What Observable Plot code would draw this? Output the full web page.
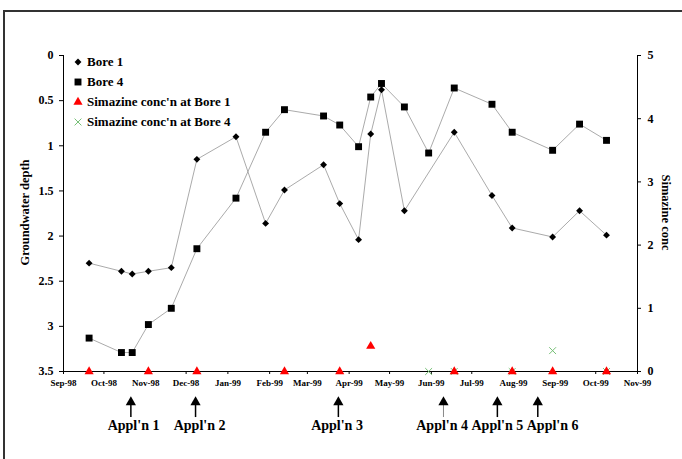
<!DOCTYPE html>
<html>
<head>
<meta charset="utf-8">
<script src="https://cdn.jsdelivr.net/npm/d3@7"></script>
<script src="https://cdn.jsdelivr.net/npm/@observablehq/plot@0.6"></script>
<style>
  html, body { margin: 0; padding: 0; background: #fff; }
  #wrap { position: relative; width: 682px; height: 459px; overflow: hidden; font-family: "Liberation Serif", "Times New Roman", serif; font-weight: bold; }
  #chart { position: absolute; left: 0; top: 0; }
  #border { position: absolute; left: 3px; top: 10px; width: 720px; height: 500px; border-left: 2.5px solid #333; border-top: 2.5px solid #333; pointer-events: none; }
  .ytitle { position: absolute; font-size: 12.5px; white-space: nowrap; transform-origin: center center; }
  #legend { position: absolute; left: 70px; top: 52px; font-size: 13px; }
  .row { height: 20px; display: flex; align-items: center; }
  .row svg { width: 16px; height: 12px; margin-right: 1px; }
</style>
</head>
<body>
<div id="wrap">
  <div id="chart"></div>
  <div id="border"></div>
  <div class="ytitle" id="ltitle">Groundwater depth</div>
  <div class="ytitle" id="rtitle">Simazine conc</div>
  <div id="legend"></div>
</div>
<script>
// ---- data ----
const bore1Dates = ["1998-09-20","1998-10-14","1998-10-22","1998-11-03","1998-11-20","1998-12-09","1999-01-07","1999-01-29","1999-02-12","1999-03-13","1999-03-25","1999-04-08","1999-04-17","1999-04-25","1999-05-12","1999-06-18","1999-07-16","1999-07-31","1999-08-30","1999-09-19","1999-10-09"];
const bore1Depth = [2.30,2.39,2.42,2.39,2.35,1.15,0.90,1.86,1.49,1.21,1.64,2.04,0.87,0.38,1.72,0.85,1.55,1.91,2.01,1.72,1.99];

const bore4Dates = ["1998-09-20","1998-10-14","1998-10-22","1998-11-03","1998-11-20","1998-12-09","1999-01-07","1999-01-29","1999-02-12","1999-03-13","1999-03-25","1999-04-08","1999-04-17","1999-04-25","1999-05-12","1999-05-30","1999-06-18","1999-07-16","1999-07-31","1999-08-30","1999-09-19","1999-10-09"];
const bore4Depth = [3.13,3.29,3.29,2.98,2.80,2.14,1.58,0.85,0.60,0.67,0.77,1.01,0.46,0.31,0.57,1.08,0.36,0.54,0.85,1.05,0.76,0.94];

const sim1Dates = ["1998-09-20","1998-11-03","1998-12-09","1999-02-12","1999-03-25","1999-04-17","1999-06-18","1999-07-31","1999-08-30","1999-10-09"];
const sim1Conc  = [0,0,0,0,0,0.40,0,0,0,0];

const sim4Dates = ["1999-05-30","1999-06-18","1999-07-31","1999-08-30","1999-10-09"];
const sim4Conc  = [0,0,0,0.33,0];

const applLabels = ["Appl'n 1","Appl'n 2","Appl'n 3","Appl'n 4","Appl'n 5","Appl'n 6"];
const applDates  = ["1998-10-21","1998-12-08","1999-03-24","1999-06-10","1999-07-20","1999-08-19"];
const applTextDates = ["1998-10-23","1998-12-11","1999-03-23","1999-06-09","1999-07-20","1999-08-30"];

const depthTicks = [0,0.5,1,1.5,2,2.5,3,3.5];
const concTicks = [0,1,2,3,4,5];
const xStart = "1998-09-01", xEnd = "1999-11-01";

// ---- build tables ----
const depthMax = 3.5, concMax = 5;
const concToDepth = c => depthMax - c * depthMax / concMax;
const bore1 = bore1Dates.map((d,i) => ({date: new Date(d), depth: bore1Depth[i]}));
const bore4 = bore4Dates.map((d,i) => ({date: new Date(d), depth: bore4Depth[i]}));
const sim1 = sim1Dates.map((d,i) => ({date: new Date(d), conc: sim1Conc[i]}));
const sim4 = sim4Dates.map((d,i) => ({date: new Date(d), conc: sim4Conc[i]}));
const appl = applLabels.map((l,i) => ({label: l, date: new Date(applDates[i]), tdate: new Date(applTextDates[i])}));
const monthTicks = d3.utcMonth.range(new Date(xStart), d3.utcDay.offset(new Date(xEnd), 1));
const fmt = d3.utcFormat("%b-%y");

// arrow geometry in depth units (below the axis)
const headY = 3.84, shaftTop = 3.86, shaftBottom = 4.01, textY = 4.10;

const chart = Plot.plot({
  width: 682,
  height: 459,
  marginLeft: 63,
  marginRight: 45,
  marginTop: 55,
  marginBottom: 88,
  style: {fontFamily: "'Liberation Serif', 'Times New Roman', serif", fontWeight: "bold", background: "transparent", overflow: "visible"},
  x: {type: "utc", domain: [new Date(xStart), new Date(xEnd)]},
  y: {domain: [0, depthMax], reverse: true},
  marks: [
    Plot.ruleX([new Date(xStart)], {stroke: "black", strokeWidth: 1}),
    Plot.ruleX([new Date(xEnd)], {stroke: "black", strokeWidth: 1}),
    Plot.ruleY([depthMax], {stroke: "black", strokeWidth: 1.2}),
    Plot.axisY(depthTicks, {anchor: "left", tickSize: 4, tickPadding: 6, fontSize: 12, label: null, tickFormat: d => String(d)}),
    Plot.axisY(concTicks.map(concToDepth), {anchor: "right", tickSize: 3, tickPadding: 7, fontSize: 12, label: null, tickFormat: v => String(Math.round((depthMax - v) * concMax / depthMax))}),
    Plot.axisX(monthTicks, {anchor: "bottom", tickSize: 3, tickPadding: 5, fontSize: 9, label: null, tickFormat: fmt}),
    Plot.line(bore1, {x: "date", y: "depth", stroke: "#a0a0a0", strokeWidth: 0.9}),
    Plot.line(bore4, {x: "date", y: "depth", stroke: "#a0a0a0", strokeWidth: 0.9}),
    Plot.dot(bore1, {x: "date", y: "depth", symbol: "diamond2", r: 3.1, fill: "black"}),
    Plot.dot(bore4, {x: "date", y: "depth", symbol: "square", r: 3.9, fill: "black"}),
    Plot.dot(sim4, {x: "date", y: d => concToDepth(d.conc), symbol: "times", r: 3.2, stroke: "#77c077", strokeWidth: 1}),
    Plot.dot(sim1, {x: "date", y: d => concToDepth(d.conc), symbol: "triangle", r: 3.4, fill: "#ff0000"}),
    Plot.ruleX(appl, {x: "date", y1: shaftTop, y2: shaftBottom, stroke: (d, i) => i === 3 ? "#888" : "black", strokeWidth: (d, i) => i === 3 ? 1 : 1.5}),
    Plot.dot(appl, {x: "date", y: headY, symbol: "triangle", r: 3.8, fill: "black"}),
    Plot.text(appl, {x: "tdate", y: textY, text: "label", fontSize: 14, fontWeight: "bold", fill: "black"})
  ]
});
document.getElementById("chart").appendChild(chart);

// axis titles
const lt = document.getElementById("ltitle");
lt.style.left = (25 - 60) + "px"; lt.style.top = (213 - 8) + "px"; lt.style.width = "120px"; lt.style.textAlign = "center";
lt.style.transform = "rotate(-90deg)";
const rt = document.getElementById("rtitle");
rt.style.left = (665 - 60) + "px"; rt.style.top = (213 - 8) + "px"; rt.style.width = "120px"; rt.style.textAlign = "center";
rt.style.transform = "rotate(90deg)";

// legend
const legendItems = [
  {label: "Bore 1", symbol: d3.symbolDiamond2, r: 3.1, fill: "black", stroke: "none"},
  {label: "Bore 4", symbol: d3.symbolSquare, r: 3.9, fill: "black", stroke: "none"},
  {label: "Simazine conc'n at Bore 1", symbol: d3.symbolTriangle, r: 3.4, fill: "#ff0000", stroke: "none"},
  {label: "Simazine conc'n at Bore 4", symbol: d3.symbolTimes, r: 3.2, fill: "none", stroke: "#77c077"}
];
const leg = d3.select("#legend");
legendItems.forEach(it => {
  const row = leg.append("div").attr("class", "row");
  const s = row.append("svg");
  s.append("path")
    .attr("transform", "translate(8,6)")
    .attr("d", d3.symbol(it.symbol, Math.PI * it.r * it.r)())
    .attr("fill", it.fill).attr("stroke", it.stroke);
  row.append("span").text(it.label);
});
</script>
</body>
</html>
